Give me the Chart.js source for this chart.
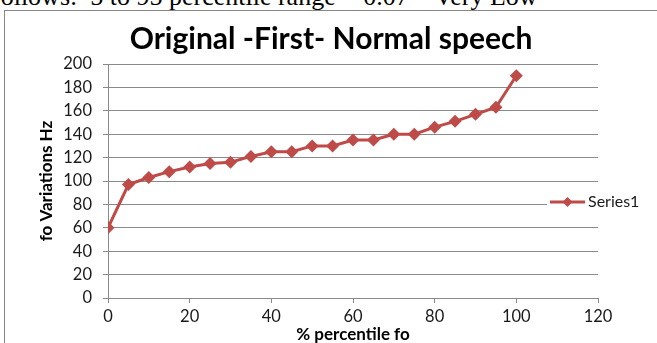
<!DOCTYPE html>
<html>
<head>
<meta charset="utf-8">
<script src="https://cdn.jsdelivr.net/npm/chart.js@4.4.1/dist/chart.umd.min.js"></script>
<style>
  html, body { margin: 0; padding: 0; width: 657px; height: 343px; overflow: hidden; background: #fff; }
  #doctext { position: absolute; left: -8px; top: -16px; font-family: "Liberation Serif", "Times New Roman", serif; font-size: 26px; line-height: 26px; white-space: pre; color: #000; }
  #frame { position: absolute; left: 4px; top: 10px; width: 700px; height: 400px; border-left: 1px solid #868686; border-top: 1px solid #868686; }
  #c { position: absolute; left: 0; top: 0; }
</style>
</head>
<body>
<div id="doctext">follows:  5 to 95 percentile range = 0.07 – Very Low</div>
<div id="frame"><canvas id="c" width="652" height="332"></canvas></div>
<script>
const chartTitle = "Original -First- Normal speech";
const xAxisTitle = "% percentile fo";
const yAxisTitle = "fo Variations Hz";
const seriesName = "Series1";
const percentiles = [0, 5, 10, 15, 20, 25, 30, 35, 40, 45, 50, 55, 60, 65, 70, 75, 80, 85, 90, 95, 100];
const foValues = [60, 97, 103, 108, 112, 115, 116, 121, 125, 125, 130, 130, 135, 135, 140, 140, 146, 151, 157, 163, 190];
const xTicks = [0, 20, 40, 60, 80, 100, 120];
const yTicks = [0, 20, 40, 60, 80, 100, 120, 140, 160, 180, 200];

const lineColor = '#BE4B48';
const gridColor = '#8a8a8a';
const textColor = '#1a1a1a';

const legendPlugin = {
  id: 'excelLegend',
  afterDraw(chart) {
    const ctx = chart.ctx;
    const a = chart.chartArea;
    const ds = chart.data.datasets[0];
    const cy = (a.top + chart.height) / 2 - 1.5;
    const x0 = a.right - 48;
    const x1 = x0 + 35;
    ctx.save();
    ctx.fillStyle = '#ffffff';
    ctx.fillRect(x0 - 3, cy - 7, a.right - x0 + 6, 14);
    ctx.strokeStyle = ds.borderColor;
    ctx.lineWidth = 3;
    ctx.beginPath();
    ctx.moveTo(x0, cy);
    ctx.lineTo(x1, cy);
    ctx.stroke();
    const cx = (x0 + x1) / 2;
    const r = 5;
    ctx.fillStyle = ds.backgroundColor;
    ctx.beginPath();
    ctx.moveTo(cx, cy - r);
    ctx.lineTo(cx + r, cy);
    ctx.lineTo(cx, cy + r);
    ctx.lineTo(cx - r, cy);
    ctx.closePath();
    ctx.fill();
    ctx.fillStyle = textColor;
    ctx.font = '16px Lato';
    ctx.textBaseline = 'middle';
    ctx.textAlign = 'left';
    ctx.fillText(ds.label, x1 + 3, cy);
    ctx.restore();
  }
};

function draw() {
  Chart.defaults.font.family = 'Lato';
  Chart.defaults.color = textColor;
  new Chart(document.getElementById('c'), {
    type: 'line',
    data: {
      datasets: [{
        label: seriesName,
        data: percentiles.map((p, i) => ({ x: p, y: foValues[i] })),
        borderColor: lineColor,
        backgroundColor: lineColor,
        borderWidth: 3,
        pointStyle: 'rectRot',
        pointRadius: 6.5,
        pointHoverRadius: 6.5,
        pointBorderWidth: 0,
        tension: 0
      }]
    },
    options: {
      responsive: false,
      animation: false,
      devicePixelRatio: 1,
      layout: { padding: 0 },
      plugins: {
        legend: { display: false },
        tooltip: { enabled: false },
        title: {
          display: true,
          text: chartTitle,
          color: '#000',
          font: { size: 30, weight: 'bold', family: 'Lato' },
          padding: { top: 10, bottom: 7 }
        }
      },
      scales: {
        x: {
          type: 'linear',
          min: 0, max: 120,
          afterBuildTicks: s => { s.ticks = xTicks.map(v => ({ value: v })); },
          afterFit: s => { s.height = 45; },
          ticks: { padding: 4, font: { size: 16.5 }, color: textColor, maxRotation: 0 },
          grid: { drawOnChartArea: false, drawTicks: true, tickLength: 5, color: gridColor },
          border: { color: gridColor, width: 1 },
          title: { display: true, text: xAxisTitle, color: '#000', font: { size: 17, weight: 'bold', lineHeight: 1 }, padding: { top: 0, bottom: 0 } }
        },
        y: {
          type: 'linear',
          min: 0, max: 200,
          afterBuildTicks: s => { s.ticks = yTicks.map(v => ({ value: v })); },
          afterFit: s => { s.width = 103; },
          ticks: { padding: 11, font: { size: 16.5 }, color: textColor },
          grid: { drawTicks: true, tickLength: 5, color: gridColor },
          border: { color: gridColor, width: 1 },
          title: { display: true, text: yAxisTitle, color: '#000', font: { size: 17, weight: 'bold', lineHeight: 1.2 }, padding: { top: 31, bottom: 0 } }
        },
        legendSpace: {
          type: 'linear',
          position: 'right',
          display: true,
          afterFit: s => { s.width = 59; },
          ticks: { display: false },
          grid: { display: false, drawOnChartArea: false },
          border: { display: false }
        }
      }
    },
    plugins: [legendPlugin]
  });
}
if (document.fonts && document.fonts.load) {
  Promise.all([document.fonts.load('bold 30px Lato'), document.fonts.load('16px Lato')]).then(draw, draw);
} else { draw(); }
</script>
</body>
</html>
